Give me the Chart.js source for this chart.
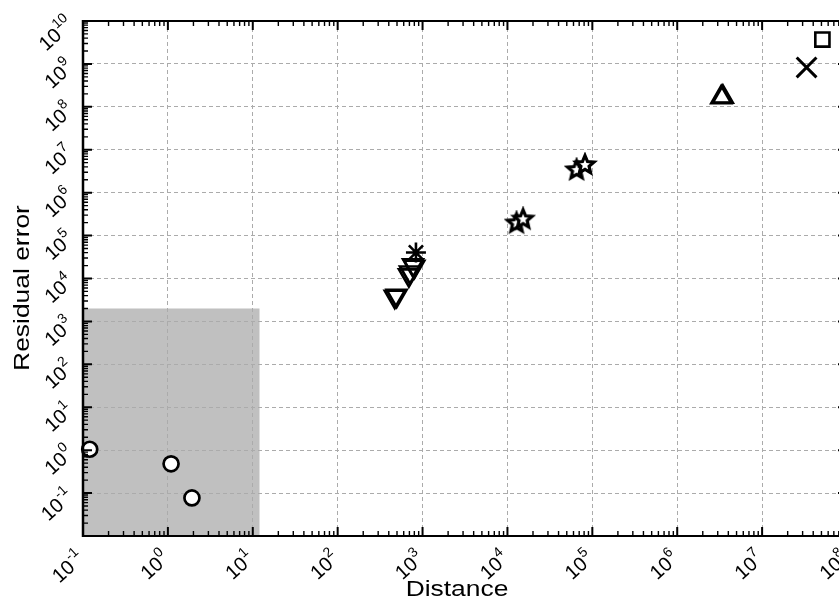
<!DOCTYPE html>
<html><head><meta charset="utf-8">
<script src="https://cdn.jsdelivr.net/npm/chart.js@4"></script>
<style>
html,body{margin:0;padding:0;overflow:hidden;background:#fff;width:839px;height:599px}
#wrap{position:absolute;left:0;top:0;width:900px;height:599px}
</style>
</head><body><div id="wrap"><canvas id="c" width="900" height="599"></canvas></div>
<script>
// ---- data ----
const xTickExponents = [-1, 0, 1, 2, 3, 4, 5, 6, 7, 8];
const yTickExponents = [-1, 0, 1, 2, 3, 4, 5, 6, 7, 8, 9, 10];
const xRange = [0.1, 1e8];
const yRange = [0.01, 1e10];
const xTitle = 'Distance';
const yTitle = 'Residual error';
const shadedX = [0.1, 12];
const shadedY = [0.01, 2000];

const circlePoints = [{x: 0.12, y: 1.05}, {x: 1.09, y: 0.48}, {x: 1.92, y: 0.077}];
const downTrianglePoints = [{x: 470, y: 3800}, {x: 495, y: 4000}, {x: 690, y: 12000}, {x: 710, y: 14000}, {x: 771, y: 20600}, {x: 800, y: 19000}];
const asteriskPoints = [{x: 836, y: 40400}];
const starPoints = [{x: 12800, y: 194000}, {x: 15300, y: 240000}, {x: 65300, y: 3370000}, {x: 81900, y: 4420000}];
const upTrianglePoints = [{x: 3.3e6, y: 1.66e8}, {x: 3.45e6, y: 1.71e8}];
const crossPoints = [{x: 3.34e7, y: 8.27e8}];
const squarePoints = [{x: 5.13e7, y: 3.7e9}];

// ---- five-pointed star marker image ----
function makeStar() {
  const c = document.createElement('canvas');
  c.width = 26; c.height = 26;
  const g = c.getContext('2d');
  const R = 9.5, r = 4.3;
  g.beginPath();
  for (let i = 0; i < 10; i++) {
    const a = -Math.PI / 2 + i * Math.PI / 5;
    const rr = i % 2 === 0 ? R : r;
    const px = 13 + rr * Math.cos(a), py = 13 + rr * Math.sin(a);
    if (i === 0) g.moveTo(px, py); else g.lineTo(px, py);
  }
  g.closePath();
  g.fillStyle = '#fff'; g.fill();
  g.lineWidth = 3.2; g.lineJoin = 'miter'; g.strokeStyle = '#000'; g.stroke();
  return c;
}
const starImg = makeStar();

const FONT = '"Liberation Sans", Arial, sans-serif';

function drawPow(ctx, ax, ay, exp, angleDeg) {
  ctx.save();
  ctx.translate(ax, ay);
  ctx.rotate(-angleDeg * Math.PI / 180);
  ctx.fillStyle = '#000';
  ctx.textBaseline = 'middle';
  ctx.textAlign = 'left';
  ctx.font = '14px ' + FONT;
  const we = ctx.measureText(exp).width;
  ctx.font = '20px ' + FONT;
  const wb = ctx.measureText('10').width;
  ctx.fillText('10', -we - wb - 0.5, 0);
  ctx.font = '14px ' + FONT;
  ctx.fillText(exp, -we, -8);
  ctx.restore();
}

const framePlugin = {
  id: 'frame',
  beforeDraw(chart) {
    const ctx = chart.ctx, xs = chart.scales.x, ys = chart.scales.y;
    ctx.save();
    ctx.fillStyle = '#fff';
    ctx.fillRect(0, 0, chart.width, chart.height);
    const x0 = xs.getPixelForValue(shadedX[0]), x1 = xs.getPixelForValue(shadedX[1]);
    const y0 = ys.getPixelForValue(shadedY[0]), y1 = ys.getPixelForValue(shadedY[1]);
    ctx.fillStyle = '#c0c0c0';
    ctx.fillRect(x0, y1, x1 - x0, y0 - y1);
    ctx.restore();
  },
  afterDraw(chart) {
    const ctx = chart.ctx, xs = chart.scales.x, ys = chart.scales.y;
    const a = chart.chartArea;
    ctx.save();
    ctx.strokeStyle = '#000';
    ctx.setLineDash([]);
    const majorLen = 9, minorLen = 5;
    function xTick(px, len, w) {
      ctx.lineWidth = w;
      ctx.beginPath();
      ctx.moveTo(px, a.bottom); ctx.lineTo(px, a.bottom - len);
      ctx.moveTo(px, a.top); ctx.lineTo(px, a.top + len);
      ctx.stroke();
    }
    function yTick(py, len, w) {
      ctx.lineWidth = w;
      ctx.beginPath();
      ctx.moveTo(a.left, py); ctx.lineTo(a.left + len, py);
      ctx.moveTo(a.right, py); ctx.lineTo(a.right - len, py);
      ctx.stroke();
    }
    const lx0 = Math.round(Math.log10(xRange[0])), lx1 = Math.round(Math.log10(xRange[1]));
    for (let e = lx0; e <= lx1; e++) {
      xTick(xs.getPixelForValue(Math.pow(10, e)), majorLen, 2);
      if (e < lx1) for (let k = 2; k <= 9; k++) xTick(xs.getPixelForValue(k * Math.pow(10, e)), minorLen, 1.4);
    }
    const ly0 = Math.round(Math.log10(yRange[0])), ly1 = Math.round(Math.log10(yRange[1]));
    for (let e = ly0; e <= ly1; e++) {
      yTick(ys.getPixelForValue(Math.pow(10, e)), majorLen, 2);
      if (e < ly1) for (let k = 2; k <= 9; k++) yTick(ys.getPixelForValue(k * Math.pow(10, e)), minorLen, 1.4);
    }
    ctx.lineWidth = 2;
    ctx.strokeRect(a.left, a.top, a.right - a.left, a.bottom - a.top);
    ctx.lineWidth = 2.5;
    ctx.beginPath(); ctx.moveTo(a.left, a.top - 1); ctx.lineTo(a.left, a.bottom + 1); ctx.stroke();
    xTickExponents.forEach(e => drawPow(ctx, xs.getPixelForValue(Math.pow(10, e)) - 1, a.bottom + 20, String(e), 42));
    yTickExponents.forEach(e => drawPow(ctx, a.left - 12, ys.getPixelForValue(Math.pow(10, e)) + 1, String(e), 42));
    ctx.fillStyle = '#000';
    ctx.textAlign = 'center';
    ctx.textBaseline = 'alphabetic';
    ctx.font = '22px ' + FONT;
    ctx.save();
    ctx.translate(457, 596);
    ctx.scale(1.2, 1);
    ctx.fillText(xTitle, 0, 0);
    ctx.restore();
    ctx.save();
    ctx.translate(23, 288);
    ctx.rotate(-Math.PI / 2);
    ctx.scale(1.2, 1);
    ctx.textBaseline = 'middle';
    ctx.fillText(yTitle, 0, 0);
    ctx.restore();
    ctx.restore();
  }
};

function ds(label, data, style, extra) {
  return Object.assign({
    label, data, showLine: false, clip: false,
    pointStyle: style, pointRadius: 7, pointHoverRadius: 7,
    pointBorderColor: '#000', pointBackgroundColor: 'rgba(0,0,0,0)', pointBorderWidth: 2.5
  }, extra || {});
}

new Chart(document.getElementById('c'), {
  type: 'scatter',
  plugins: [framePlugin],
  data: {
    datasets: [
      ds('circles', circlePoints, 'circle', {pointRadius: 7.5, pointBackgroundColor: '#fff', pointBorderWidth: 2.7}),
      ds('down triangles', downTrianglePoints, 'triangle', {pointRadius: 11.5, pointRotation: 180, pointBorderWidth: 2.6}),
      ds('asterisk', asteriskPoints, 'star', {pointRadius: 10, pointBorderWidth: 2.6}),
      ds('stars', starPoints, starImg, {pointRadius: 10}),
      ds('up triangles', upTrianglePoints, 'triangle', {pointRadius: 11.5, pointBorderWidth: 2.6}),
      ds('cross', crossPoints, 'crossRot', {pointRadius: 14, pointBorderWidth: 3}),
      ds('square', squarePoints, 'rect', {pointRadius: 10, pointBorderWidth: 2.6, pointBackgroundColor: '#fff'})
    ]
  },
  options: {
    responsive: false,
    animation: false,
    devicePixelRatio: 1,
    layout: {padding: {left: 83, top: 21, right: 53, bottom: 63}},
    plugins: {legend: {display: false}, tooltip: {enabled: false}},
    scales: {
      x: {
        type: 'logarithmic', position: 'bottom', min: xRange[0], max: xRange[1],
        afterBuildTicks: s => { s.ticks = xTickExponents.map(e => ({value: Math.pow(10, e)})); },
        ticks: {display: false},
        grid: {color: '#ababab', lineWidth: 1, drawTicks: false},
        border: {display: false, dash: [4, 3]}
      },
      y: {
        type: 'logarithmic', position: 'left', min: yRange[0], max: yRange[1],
        afterBuildTicks: s => { s.ticks = yTickExponents.map(e => ({value: Math.pow(10, e)})); },
        ticks: {display: false},
        grid: {color: '#ababab', lineWidth: 1, drawTicks: false},
        border: {display: false, dash: [4, 3]}
      }
    }
  }
});
</script>
</body></html>
